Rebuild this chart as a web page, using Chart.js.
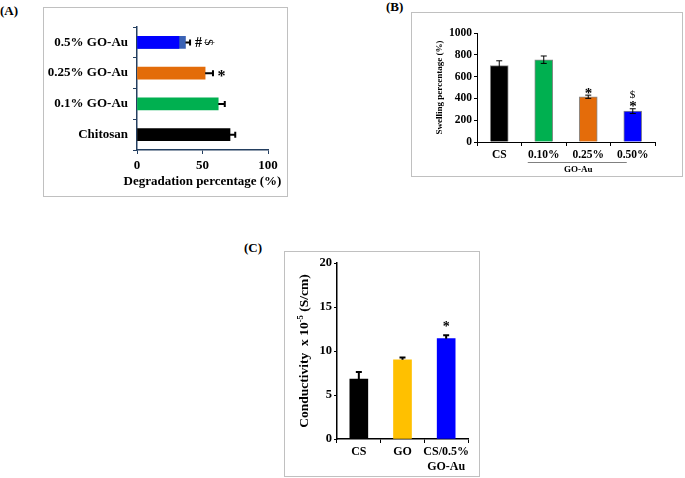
<!DOCTYPE html>
<html>
<head>
<meta charset="utf-8">
<script src="https://cdn.jsdelivr.net/npm/chart.js@4.4.0/dist/chart.umd.min.js"></script>
<style>
  body { margin: 0; width: 685px; height: 478px; background: #fff; position: relative; overflow: hidden;
         font-family: "Liberation Serif", "Times New Roman", serif; }
  .box { position: absolute; border: 1px solid #c0c0c0; box-sizing: border-box; }
  .tag { position: absolute; font-weight: bold; font-size: 13px; line-height: 1; color: #000; }
  canvas { position: absolute; }
</style>
</head>
<body>
<div class="tag" style="left:0px;top:4px">(A)</div>
<div class="tag" style="left:386px;top:0px">(B)</div>
<div class="tag" style="left:244px;top:241px">(C)</div>

<div class="box" style="left:43px;top:7px;width:245px;height:190px"></div>
<div class="box" style="left:411px;top:12px;width:272px;height:165px"></div>
<div class="box" style="left:284px;top:251px;width:196px;height:226px"></div>

<canvas id="chartA" width="245" height="190" style="left:43px;top:7px"></canvas>
<canvas id="chartB" width="272" height="165" style="left:411px;top:12px"></canvas>
<canvas id="chartC" width="196" height="226" style="left:284px;top:251px"></canvas>

<script>
// ========================================
// DATOS
// ========================================
// (A) degradacion
const degLabels = ['0.5% GO-Au', '0.25% GO-Au', '0.1% GO-Au', 'Chitosan'];
const degValues = [37, 52, 62, 71];
const degInner = [32, null, null, null];
const degErrors = [3.5, 6, 5, 4];
const degMarks = [['#', '$'], ['*'], [], []];
const degTicks = [0, 50, 100];
const degColors = ['#3a62b5', '#e36c09', '#00b050', '#000000'];
const degTitle = 'Degradation percentage (%)';

// (B) swelling
const swellLabels = ['CS', '0.10%', '0.25%', '0.50%'];
const swellValues = [700, 755, 415, 283];
const swellErrors = [45, 34, 15, 22];
const swellMarks = [[], [], ['*'], ['*', '$']];
const swellTicks = [0, 200, 400, 600, 800, 1000];
const swellColors = ['#000000', '#00b050', '#e46c0a', '#0000ff'];
const swellGroup = 'GO-Au';

// (C) conductividad
const condLabels = ['CS', 'GO', ['CS/0.5%', 'GO-Au']];
const condValues = [6.8, 9.0, 11.4];
const condErrors = [0.8, 0.25, 0.4];
const condMarks = [[], [], ['*']];
const condTicks = [0, 5, 10, 15, 20];
const condColors = ['#000000', '#ffc000', '#0000ff'];
const condTitle = ['Conductivity  x 10', '-5', ' (S/cm)'];

// ========================================
// AUXILIARES
// ========================================
const SERIF = '"Liberation Serif", "Times New Roman", serif';

function fnt(size, weight) {
    return { family: SERIF, size: size, weight: weight || 'bold' };
}

// dibuja un texto con el centro del glifo en (x, y)
function drawCentered(ctx, text, x, y) {
    ctx.textAlign = 'left';
    ctx.textBaseline = 'alphabetic';
    const m = ctx.measureText(text);
    const bx = x - (m.actualBoundingBoxRight - m.actualBoundingBoxLeft) / 2;
    const by = y + (m.actualBoundingBoxAscent - m.actualBoundingBoxDescent) / 2;
    ctx.fillText(text, bx, by);
}

function markFont(m, sizes) {
    return (m === '$' ? 'normal ' : 'bold ') + sizes[m] + 'px ' + SERIF;
}

function errorBarsPlugin(dsIndex, errors, marks, o) {
    return {
        id: 'errorBars',
        afterDatasetsDraw(chart) {
            const ctx = chart.ctx;
            const horiz = chart.options.indexAxis === 'y';
            const scale = horiz ? chart.scales.x : chart.scales.y;
            const data = chart.data.datasets[dsIndex].data;
            const meta = chart.getDatasetMeta(dsIndex);
            ctx.save();
            ctx.strokeStyle = '#000';
            ctx.fillStyle = '#000';
            ctx.lineWidth = o.width;
            meta.data.forEach((bar, i) => {
                const v = data[i], e = errors[i];
                const end = scale.getPixelForValue(v + e);
                const start = scale.getPixelForValue(o.both ? v - e : v);
                const c = horiz ? bar.y : bar.x;
                ctx.beginPath();
                if (horiz) {
                    ctx.moveTo(start, c); ctx.lineTo(end, c);
                    ctx.moveTo(end, c - o.cap); ctx.lineTo(end, c + o.cap);
                } else {
                    ctx.moveTo(c, start); ctx.lineTo(c, end);
                    ctx.moveTo(c - o.cap, end); ctx.lineTo(c + o.cap, end);
                    if (o.both) { ctx.moveTo(c - o.cap, start); ctx.lineTo(c + o.cap, start); }
                }
                ctx.stroke();

                marks[i].forEach((m, k) => {
                    ctx.font = markFont(m, o.sizes);
                    const d = o.gap + k * o.step;
                    if (horiz) {
                        ctx.save();
                        ctx.translate(end + d, c);
                        if (m === '$') ctx.rotate(Math.PI / 2);
                        drawCentered(ctx, m, 0, 0);
                        ctx.restore();
                    } else {
                        drawCentered(ctx, m, c, end - d);
                    }
                });
            });
            ctx.restore();
        }
    };
}

function axisGrid(color, len) {
    return { drawOnChartArea: false, tickLength: len, color: color, lineWidth: 1 };
}

Chart.defaults.font.family = SERIF;
Chart.defaults.color = '#000';

const baseOptions = {
    responsive: false,
    animation: false,
    devicePixelRatio: 1,
    plugins: { legend: { display: false }, tooltip: { enabled: false } }
};

// ========================================
// (A) DEGRADACION
// ========================================
const navy = '#243f60';

// titulo del eje x sin recorte de ancho
const degTitlePlugin = {
    id: 'degTitle',
    afterDraw(chart) {
        const ctx = chart.ctx;
        const area = chart.chartArea;
        ctx.save();
        ctx.fillStyle = '#000';
        ctx.font = 'bold 13px ' + SERIF;
        ctx.textAlign = 'center';
        ctx.textBaseline = 'middle';
        ctx.fillText(degTitle, (area.left + area.right) / 2, area.bottom + 32);
        ctx.restore();
    }
};

new Chart(document.getElementById('chartA'), {
    type: 'bar',
    data: {
        labels: degLabels,
        datasets: [
            { data: degInner, backgroundColor: '#0000ff', barThickness: 12, grouped: false },
            { data: degValues, backgroundColor: degColors, barThickness: 12, grouped: false }
        ]
    },
    options: Object.assign({}, baseOptions, {
        indexAxis: 'y',
        layout: { padding: { left: 0, top: 20, right: 20, bottom: 0 } },
        scales: {
            x: {
                min: degTicks[0], max: degTicks[degTicks.length - 1],
                ticks: { stepSize: degTicks[1] - degTicks[0], font: fnt(13), padding: 4 },
                grid: axisGrid(navy, 4),
                border: { color: navy, width: 1.5 },
                afterFit: s => { s.height = 47; }
            },
            y: {
                ticks: { font: fnt(13), padding: 5 },
                grid: axisGrid(navy, 4),
                border: { color: navy, width: 1.5 },
                afterFit: s => { s.width = 94; }
            }
        }
    }),
    plugins: [errorBarsPlugin(1, degErrors, degMarks,
        { width: 2, cap: 3, both: false, gap: 8.5, step: 10.5, sizes: { '#': 14, '$': 13, '*': 16 } }), degTitlePlugin]
});

// ========================================
// (B) SWELLING
// ========================================
const groupPlugin = {
    id: 'groupLabel',
    afterDraw(chart) {
        const ctx = chart.ctx;
        const xs = chart.scales.x;
        const y = chart.chartArea.bottom + 20;
        const x1 = xs.getPixelForValue(1) - 16;
        const x2 = xs.getPixelForValue(3) - 6;
        ctx.save();
        ctx.strokeStyle = '#808080';
        ctx.lineWidth = 1;
        ctx.beginPath();
        ctx.moveTo(x1, y + 0.5); ctx.lineTo(x2, y + 0.5);
        ctx.stroke();
        ctx.fillStyle = '#000';
        ctx.font = 'bold 9px ' + SERIF;
        drawCentered(ctx, swellGroup, (x1 + x2) / 2 + 1, y + 7);
        ctx.restore();
    }
};

new Chart(document.getElementById('chartB'), {
    type: 'bar',
    data: {
        labels: swellLabels,
        datasets: [{ data: swellValues, backgroundColor: swellColors, borderColor: '#8a8a8a', borderWidth: 1, barThickness: 18 }]
    },
    options: Object.assign({}, baseOptions, {
        layout: { padding: { left: 0, top: 21, right: 28, bottom: 0 } },
        scales: {
            x: {
                ticks: { font: fnt(11.5), padding: 2, maxRotation: 0, autoSkip: false },
                grid: axisGrid('#000', 4),
                border: { color: '#000', width: 1 },
                afterFit: s => { s.height = 35; }
            },
            y: {
                min: swellTicks[0], max: swellTicks[swellTicks.length - 1],
                ticks: { stepSize: swellTicks[1] - swellTicks[0], font: fnt(11.5), padding: 2, callback: v => String(v) },
                grid: axisGrid('#000', 3),
                border: { color: '#000', width: 1 },
                title: { display: true, text: 'Swelling percentage (%)', font: fnt(9), padding: { top: 23.6, bottom: 0 } },
                afterFit: s => { s.width = 66; }
            }
        }
    }),
    plugins: [errorBarsPlugin(0, swellErrors, swellMarks,
        { width: 1, cap: 3, both: true, gap: 4.5, step: 10, sizes: { '*': 15, '$': 11 } }), groupPlugin]
});

// ========================================
// (C) CONDUCTIVIDAD
// ========================================
const condTitlePlugin = {
    id: 'condTitle',
    afterDraw(chart) {
        const ctx = chart.ctx;
        const cy = (chart.chartArea.top + chart.chartArea.bottom) / 2;
        ctx.save();
        ctx.translate(21, cy);
        ctx.rotate(-Math.PI / 2);
        ctx.fillStyle = '#000';
        ctx.textBaseline = 'middle';
        ctx.textAlign = 'left';
        const big = 'bold 13.5px ' + SERIF, small = 'bold 8.5px ' + SERIF;
        ctx.font = big;
        const w1 = ctx.measureText(condTitle[0]).width;
        const w3 = ctx.measureText(condTitle[2]).width;
        ctx.font = small;
        const w2 = ctx.measureText(condTitle[1]).width;
        let x = -(w1 + w2 + w3) / 2;
        ctx.font = big;
        ctx.fillText(condTitle[0], x, 0);
        x += w1;
        ctx.font = small;
        ctx.fillText(condTitle[1], x, -4);
        x += w2;
        ctx.font = big;
        ctx.fillText(condTitle[2], x, 0);
        ctx.restore();
    }
};

new Chart(document.getElementById('chartC'), {
    type: 'bar',
    data: {
        labels: condLabels,
        datasets: [{ data: condValues, backgroundColor: condColors, barThickness: 18 }]
    },
    options: Object.assign({}, baseOptions, {
        layout: { padding: { left: 0, top: 12, right: 12, bottom: 0 } },
        scales: {
            x: {
                ticks: { font: fnt(12), padding: 2, maxRotation: 0, minRotation: 0, autoSkip: false },
                grid: axisGrid('#000', 4),
                border: { color: '#000', width: 1.5 },
                afterFit: s => { s.height = 38; }
            },
            y: {
                min: condTicks[0], max: condTicks[condTicks.length - 1],
                ticks: { stepSize: condTicks[1] - condTicks[0], font: fnt(12.5), padding: 2 },
                grid: axisGrid('#000', 3),
                border: { color: '#000', width: 1.5 },
                afterFit: s => { s.width = 53; }
            }
        }
    }),
    plugins: [errorBarsPlugin(0, condErrors, condMarks,
        { width: 2, cap: 3, both: false, gap: 11, step: 10, sizes: { '*': 14 } }), condTitlePlugin]
});
</script>
</body>
</html>
